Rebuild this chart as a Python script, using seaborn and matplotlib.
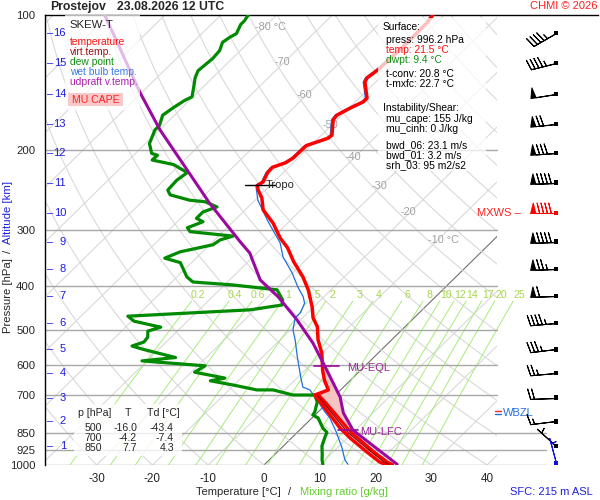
import numpy as np
import matplotlib
matplotlib.use('Agg')
import matplotlib.pyplot as plt
import seaborn as sns
from matplotlib.patches import Rectangle

# temperature profile (hPa, degC), surface -> top
p_temp = [996, 985, 936, 871, 828, 774, 724, 699, 692, 681, 649, 616, 564, 527, 493, 471,
          445, 408, 382, 353, 329, 313, 290, 271, 255, 245, 239, 235, 224, 218, 213, 208,
          195, 188, 185, 171, 167, 161, 156, 153, 141, 138, 132, 117, 104, 100]
t_temp = [21.5, 20.2, 16.1, 10.5, 6.9, 2.7, -1.5, -3.7, -3.1, -2.2, -4.6, -6.8, -10.1, -13.2,
          -15.7, -18.1, -20.3, -24.1, -27.4, -31.9, -35.5, -38.6, -42.6, -46.8, -49.2, -51.3,
          -52.3, -51.9, -52.8, -52.9, -51.4, -50.9, -50.8, -48.3, -48.1, -50.7, -50.9, -49.8,
          -48.6, -48.6, -51.9, -52.3, -51.8, -51.5, -51.6, -52.0]

# virtual temperature in the lowest layer
p_virt = [996, 985, 936, 871, 850, 828, 774, 724, 699]
t_virt = [22.2, 21.0, 16.9, 11.3, 9.4, 7.6, 3.3, -1.0, -3.3]
t_virt_edge = [22.8, 21.6, 17.4, 11.9, 10.0, 8.2, 3.8, -0.6, -3.0]

# dew point
p_dew = [996, 975, 950, 907, 866, 846, 828, 786, 774, 762, 724, 699, 699, 681, 681, 664, 650,
         641, 622, 602, 587, 577, 553, 544, 533, 520, 504, 494, 479, 467, 452, 445, 441, 430,
         408, 398, 392, 382, 355, 347, 336, 324, 316, 310, 303, 297, 288, 283, 274, 267, 260,
         258, 251, 245, 233, 224, 215, 210, 205, 203, 193, 180, 176, 167, 161, 155, 152, 145,
         138, 133, 129, 125, 120, 115, 112, 110, 105, 103, 100]
t_dew = [10.4, 9.5, 8.6, 6.9, 5.8, 5.3, 3.8, 1.1, -0.4, -0.6, -2.0, -3.7, -7.6, -12.1, -15.0,
         -20.2, -25.0, -22.9, -29.4, -28.7, -40.9, -35.5, -42.9, -45.4, -44.0, -44.2, -45.3,
         -43.7, -49.6, -51.6, -30.8, -27.8, -26.0, -26.8, -29.7, -38.5, -46.2, -48.2, -52.0,
         -55.6, -54.0, -49.4, -49.0, -47.4, -55.9, -57.1, -55.4, -57.2, -57.2, -55.6, -58.7,
         -61.7, -66.2, -67.5, -67.7, -67.2, -71.1, -75.8, -75.7, -77.1, -79.3, -80.8, -80.8,
         -82.1, -81.6, -80.9, -80.2, -81.6, -83.1, -83.9, -83.7, -83.5, -83.7, -84.7, -84.3,
         -83.8, -84.7, -84.7, -85.1]

# wet bulb temperature
p_wetb = [996, 975, 917, 846, 786, 762, 724, 681, 671, 636, 575, 527, 501, 471, 459, 437, 423,
          402, 374, 345, 321, 286, 258, 245, 239, 235, 224, 218, 213, 208, 195, 188, 185, 171,
          167, 161, 156, 153, 141, 138, 132, 117, 104, 100]
t_wetb = [14.9, 13.6, 10.9, 7.0, 3.2, 1.2, -1.8, -5.5, -7.3, -9.6, -13.8, -17.3, -19.5, -21.3,
          -21.3, -22.3, -23.7, -26.5, -30.1, -34.6, -37.7, -44.1, -49.5, -51.6, -52.6, -52.2,
          -53.1, -53.2, -51.7, -51.2, -51.1, -48.6, -48.4, -51.0, -51.2, -50.1, -48.9, -48.9,
          -52.2, -52.6, -52.1, -51.8, -51.9, -52.3]

# most unstable parcel (updraft virtual temperature)
p_parc = [996, 837, 766, 706, 605, 536, 476, 423, 388, 338, 319, 262, 221, 180, 149, 100]
t_parc = [23.7, 9.6, 4.7, 1.2, -7.0, -13.5, -20.6, -28.2, -34.5, -41.3, -45.1, -57.6, -67.7,
          -79.9, -90.2, -110.8]
p_lfc, p_eql, p_tropo, p_wbzl = 837, 604, 239, 766

# altitude marks (km) and the pressure where they sit; winds are plotted at the same levels
alt_km = [16, 15, 14, 13, 12, 11, 10, 9, 8, 7, 6, 5, 4, 3, 2, 1]
alt_p = [109.6, 127.9, 149.8, 174.6, 202.7, 236.0, 275.5, 319.3, 366.9, 421.0, 483.7, 552.8,
         624.8, 709.0, 800.0, 907.2]
wind_p = alt_p + [990.0]
wind_dir = [240, 256, 261, 264, 266, 268, 270, 268, 268, 268, 265, 263, 265, 268, 263, 312, 345]
wind_kt = [45, 45, 50, 70, 80, 90, 90, 90, 75, 60, 45, 35, 25, 20, 15, 5, 5]

mix_ratio = [0.2, 0.4, 0.6, 1, 1.5, 2, 3, 4, 6, 8, 10, 12, 14, 17, 20, 25]
mix_labels = ['0.2', '0.4', '0.6', '1', '1.5', '2', '3', '4', '6', '8', '10', '12', '14', '17', '20', '25']
p_ticks = [100, 200, 300, 400, 500, 600, 700, 850, 925, 1000]
t_ticks = [-30, -20, -10, 0, 10, 20, 30, 40]

SKEW = 82.26  # degC shift per pressure decade


def skx(t, p):
    return np.asarray(t, float) + SKEW * np.log10(1000.0 / np.asarray(p, float))


def fx(x):
    return x / 600.0


def fy(y):
    return 1 - y / 500.0


sns.set_theme(style='white')
plt.rcParams['font.family'] = ['Liberation Sans', 'DejaVu Sans']

fig = plt.figure(figsize=(6, 5), dpi=100)
fig.patch.set_facecolor('white')
ax = fig.add_axes([fx(45), fy(465), fx(553), 450 / 500])
ax.set_facecolor('white')
ax.set_yscale('log')
XMIN, XMAX, XCLIP = -39.25, 59.86, 41.8
ax.set_xlim(XMIN, XMAX)
ax.set_ylim(1000, 100)

clip = Rectangle((XMIN, 100), XCLIP - XMIN, 900, transform=ax.transData)

# background: isotherms, dry adiabats, mixing ratio lines, isobars
pg = np.geomspace(1000, 100, 80)
for t0 in range(-140, 50, 10):
    c = '#707070' if t0 == 0 else '#d9d9d9'
    ln, = ax.plot(skx(t0, pg), pg, color=c, lw=0.8, zorder=1)
    ln.set_clip_path(clip)
for th in range(-40, 240, 10):
    tt = (th + 273.15) * (pg / 1000) ** 0.2857 - 273.15
    ln, = ax.plot(skx(tt, pg), pg, color='#d9d9d9', lw=0.8, zorder=1)
    ln.set_clip_path(clip)
pm = np.geomspace(1000, 432, 30)
for w, lab in zip(mix_ratio, mix_labels):
    e = w * pm / (622.0 + w)
    le = np.log(e / 6.112)
    tm = 243.5 * le / (17.67 - le)
    ax.plot(skx(tm, pm), pm, color='#a8ec7c', lw=0.7, zorder=1)
    ax.text(skx(tm[-1], 419), 419, lab, color='#a6d84a', fontsize=7.6, ha='center', va='center', zorder=2)
for p in p_ticks[1:]:
    xe = 50.6 if p >= 850 else XCLIP
    ax.plot([XMIN, xe], [p, p], color='#a8a8a8', lw=1.0, zorder=1.5)

iso_lab = [(-80, 106.3, '-80 °C'), (-70, 127.3, '-70'), (-60, 150.5, '-60'), (-50, 175.6, '-50'),
           (-40, 206.9, '-40'), (-30, 239.8, '-30'), (-20, 274.0, '-20'), (-10, 316.0, '-10 °C')]
for t0, p, s in iso_lab:
    ax.annotate(s, (skx(t0, p), p), xytext=(-7, 0), textcoords='offset points', ha='left',
                va='center', color='#a0a0a0', fontsize=7.8, zorder=2)

# CAPE area between parcel and environment
pf = np.geomspace(p_lfc, p_eql, 60)
lp_t = np.log(p_temp[::-1])
te = np.interp(np.log(pf), lp_t, t_temp[::-1])
tp = np.interp(np.log(pf), np.log(p_parc[::-1]), t_parc[::-1])
ax.fill_betweenx(pf, skx(te, pf), skx(tp, pf), where=tp > te, color='#f7c4c4', lw=0, zorder=2)

# profiles
sns.lineplot(x=skx(t_wetb, p_wetb), y=p_wetb, sort=False, estimator=None, color='#1f6fe0', lw=0.9, ax=ax, zorder=3)
sns.lineplot(x=skx(t_dew, p_dew), y=p_dew, sort=False, estimator=None, color='#008a00', lw=2.3, ax=ax, zorder=3)
sns.lineplot(x=skx(t_temp, p_temp), y=p_temp, sort=False, estimator=None, color='#ff0000', lw=2.5, ax=ax, zorder=3)
sns.lineplot(x=skx(t_virt_edge, p_virt), y=p_virt, sort=False, estimator=None, color='#ff0000', lw=2.2, ax=ax, zorder=3)
sns.lineplot(x=skx(t_virt, p_virt), y=p_virt, sort=False, estimator=None, color='#8b0000', lw=0.9, ax=ax, zorder=3.1)
ax.plot(skx([t_temp[0], t_virt_edge[0]], [p_temp[0], p_virt[0]]), [p_temp[0], p_virt[0]], color='#ff0000', lw=2.2, zorder=3)
sns.lineplot(x=skx(t_parc, p_parc), y=p_parc, sort=False, estimator=None, color='#9a0aa0', lw=2.2, ax=ax, zorder=3.2)

# level marks
xl = skx(np.interp(np.log(p_lfc), np.log(p_parc[::-1]), t_parc[::-1]), p_lfc)
ax.plot([xl - 2.7, xl + 0.9], [p_lfc, p_lfc], color='#9a0aa0', lw=1.2, zorder=3.3)
ax.annotate('MU-LFC', (xl + 1.2, p_lfc), xytext=(0, -1), textcoords='offset points', color='#9a2a9a',
            fontsize=8, va='center', ha='left', zorder=5)
xe = skx(np.interp(np.log(p_eql), np.log(p_parc[::-1]), t_parc[::-1]), p_eql)
ax.plot([xe - 1.9, xe + 2.6], [p_eql, p_eql], color='#9a0aa0', lw=1.2, zorder=3.3)
ax.annotate('MU-EQL', (xe + 4.0, p_eql), xytext=(0, -1), textcoords='offset points', color='#9a2a9a',
            fontsize=8, va='center', ha='left', zorder=5)
xt = skx(np.interp(np.log(p_tropo), lp_t, t_temp[::-1]), p_tropo)
ax.plot([xt - 2.2, xt + 3.2], [p_tropo, p_tropo], color='black', lw=1.0, zorder=3.3)
ax.text(xt + 1.5, p_tropo, 'Tropo', fontsize=8, va='center', ha='left', zorder=5)
ax.text(46.1, alt_p[6], 'MXWS –', color='#ff2020', fontsize=8, va='center', ha='right', zorder=5)
ax.add_patch(Rectangle((42.7, 745), 10.0, 42, fc='white', ec='none', zorder=4))
ax.plot([41.4, 42.5], [758, 758], color='#ff2020', lw=1.0, zorder=5)
ax.plot([41.4, 42.5], [772, 772], color='#1f6fe0', lw=1.0, zorder=5)
ax.text(42.8, p_wbzl, 'WBZL', color='#2a6fe0', fontsize=8, va='center', ha='left', zorder=5)

# wind barbs (PolyCollection scales vertices by length/2, so staff ~ length**2/2 points)
wd = np.radians(wind_dir)
u = -np.array(wind_kt) * np.sin(wd)
v = -np.array(wind_kt) * np.cos(wd)
xb = np.full(len(wind_p), 52.33)
colors = ['black'] * len(wind_p)
colors[6] = '#ff0000'
colors[-1] = '#1010e0'
for i in range(len(wind_p)):
    ax.barbs(xb[i:i + 1], wind_p[i:i + 1], u[i:i + 1], v[i:i + 1], length=6.1, lw=0.75,
             color=colors[i], sizes=dict(height=0.4, spacing=0.15, width=0.2), zorder=5, clip_on=False)
sns.scatterplot(x=xb, y=wind_p, hue=np.arange(len(wind_p)), palette=colors, marker='s', s=12,
                linewidth=0, legend=False, ax=ax, zorder=6, clip_on=False)

# axes
for s in ['right', 'bottom']:
    ax.spines[s].set_visible(False)
for s in ['left', 'top']:
    ax.spines[s].set_color('black')
    ax.spines[s].set_linewidth(1.0)
ax.set_yticks(p_ticks)
ax.set_yticklabels([str(p) for p in p_ticks], fontsize=8.2)
ax.minorticks_off()
ax.set_xticks(t_ticks)
ax.set_xticklabels([str(t) for t in t_ticks], fontsize=8.4)
ax.tick_params(axis='both', length=0, pad=4)
ax.tick_params(axis='y', pad=7)
ax.tick_params(axis='x', pad=6)
ax.set_xlabel('')
ax.set_ylabel('')

# altitude scale
ytr = ax.get_yaxis_transform()
for km, p in zip(alt_km, alt_p):
    ax.text(0.003, p, '–', color='#1a1ae6', fontsize=8, va='center', ha='left', transform=ytr, zorder=5)
    ax.text(0.038, p, str(km), color='#1a1ae6', fontsize=8, va='center', ha='right', transform=ytr, zorder=5)

# boxes
ax.add_patch(Rectangle((fx(65), fy(110)), fx(75), 95 / 500, transform=fig.transFigure, fc='white',
                       ec='none', alpha=0.72, zorder=4, clip_on=False))
ax.add_patch(Rectangle((fx(68), fy(106)), fx(55), 13 / 500, transform=fig.transFigure, fc='#f9c9c9',
                       ec='none', zorder=4.5, clip_on=False))
ax.add_patch(Rectangle((fx(378), fy(171)), fx(108), 153 / 500, transform=fig.transFigure, fc='white',
                       ec='none', alpha=0.75, zorder=4, clip_on=False))
ax.add_patch(Rectangle((fx(74), fy(456)), fx(108), 52 / 500, transform=fig.transFigure, fc='white',
                       ec='none', alpha=0.8, zorder=4, clip_on=False))

# legend
fig.text(fx(69), fy(25), 'SKEW-T', fontsize=8.2, va='center')
leg = [('temperature', '#ff1010'), ('virt.temp.', '#a01010'), ('dew point', '#109010'),
       ('wet bulb temp.', '#3a7ae8'), ('udpraft v.temp.', '#b020b0')]
for i, (s, c) in enumerate(leg):
    fig.text(fx(70), fy(42 + 10 * i), s, color=c, fontsize=7.4, va='center')
fig.text(fx(96), fy(100), 'MU CAPE', color='#ff2020', fontsize=7.6, va='center', ha='center')

# surface / instability text
info = [(383, 27, 'Surface:', 'black'), (386, 40, 'press: 996.2 hPa', 'black'),
        (386, 50, 'temp: 21.5 °C', '#ff1010'), (386, 60, 'dwpt: 9.4 °C', '#109010'),
        (386, 74, 't-conv: 20.8 °C', 'black'), (386, 84, 't-mxfc: 22.7 °C', 'black'),
        (383, 108, 'Instability/Shear:', 'black'), (386, 119, 'mu_cape: 155 J/kg', 'black'),
        (386, 129, 'mu_cinh: 0 J/kg', 'black'), (386, 145, 'bwd_06: 23.1 m/s', 'black'),
        (386, 155, 'bwd_01: 3.2 m/s', 'black'), (386, 165, 'srh_03: 95 m2/s2', 'black')]
for x, y, s, c in info:
    fig.text(fx(x), fy(y), s, color=c, fontsize=7.4, va='center')

# table
tab_p = ['500', '700', '850']
tab_t = ['-16.0', '-4.2', '7.7']
tab_td = ['-43.4', '-7.4', '4.3']
fig.text(fx(78), fy(413), 'p [hPa]', fontsize=7.6, va='center')
fig.text(fx(125), fy(413), 'T', fontsize=7.6, va='center')
fig.text(fx(147), fy(413), 'Td [°C]', fontsize=7.6, va='center')
for i in range(3):
    y = fy(428 + 10 * i)
    fig.text(fx(102), y, tab_p[i], fontsize=7.6, va='center', ha='right')
    fig.text(fx(137), y, tab_t[i], fontsize=7.6, va='center', ha='right')
    fig.text(fx(174), y, tab_td[i], fontsize=7.6, va='center', ha='right')

# titles and axis captions
fig.text(fx(50), fy(7), 'Prostejov', fontsize=8.8, fontweight='bold', va='center')
fig.text(fx(117), fy(7), '23.08.2026 12 UTC', fontsize=8.8, fontweight='bold', va='center')
fig.text(fx(597), fy(6), 'CHMI © 2026', color='#ff2020', fontsize=8, va='center', ha='right')
fig.text(fx(238), fy(492), 'Temperature [°C]', fontsize=8, va='center', ha='center')
fig.text(fx(290), fy(492), '/', fontsize=8, va='center', ha='center')
fig.text(fx(344), fy(492), 'Mixing ratio [g/kg]', color='#66cc33', fontsize=8, va='center', ha='center')
fig.text(fx(551), fy(492), 'SFC: 215 m ASL', color='#2020e0', fontsize=8, va='center', ha='center')
fig.text(fx(8), fy(296), 'Pressure [hPa]', fontsize=8.2, va='center', ha='center', rotation=90)
fig.text(fx(8), fy(251), '/', fontsize=8.2, va='center', ha='center', rotation=90)
fig.text(fx(8), fy(213), 'Altitude [km]', color='#2020e0', fontsize=8.2, va='center', ha='center', rotation=90)

fig.savefig('out.png', dpi=100, facecolor='white')
